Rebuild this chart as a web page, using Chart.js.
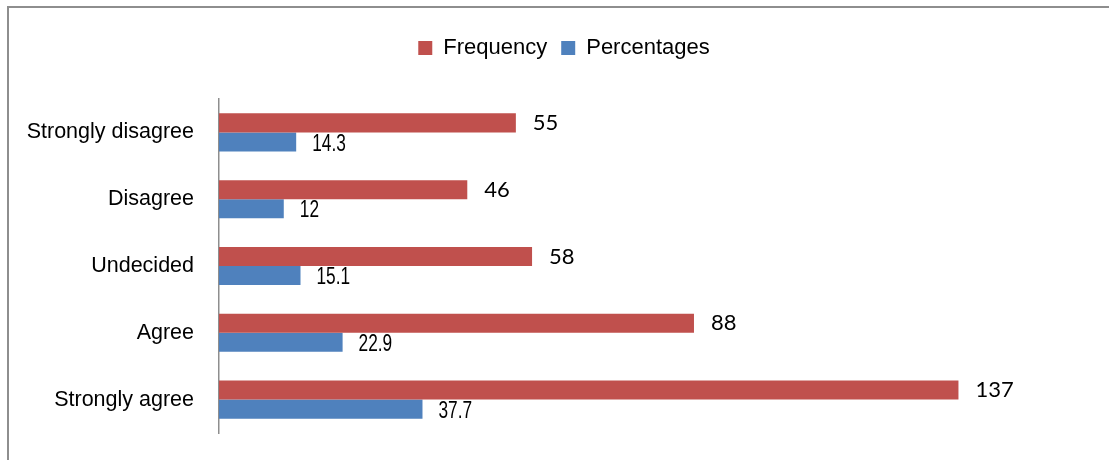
<!DOCTYPE html>
<html>
<head>
<meta charset="utf-8">
<script src="https://cdn.jsdelivr.net/npm/chart.js@4/dist/chart.umd.min.js"></script>
<style>
  html, body { margin: 0; padding: 0; background: #fff; }
  #wrap { position: relative; width: 1109px; height: 460px; }
  #frame { position: absolute; left: 7px; top: 6px; right: -5px; bottom: -5px;
           border-left: 2px solid #8e8e8e; border-top: 2px solid #8e8e8e; }
  canvas { position: absolute; left: 0; top: 0; }
</style>
</head>
<body>
<div id="wrap">
  <div id="frame"></div>
  <canvas id="chart" width="1109" height="460"></canvas>
</div>
<script>
// Datos
const categories = ['Strongly disagree', 'Disagree', 'Undecided', 'Agree', 'Strongly agree'];
const frequency = [55, 46, 58, 88, 137];
const percentages = [14.3, 12, 15.1, 22.9, 37.7];

const SANS = '"Liberation Sans", Arial, sans-serif';

// Etiquetas de valor al final de cada barra
const valueLabels = {
    id: 'valueLabels',
    afterDatasetsDraw(chart) {
        const ctx = chart.ctx;
        chart.data.datasets.forEach((ds, i) => {
            const meta = chart.getDatasetMeta(i);
            if (meta.hidden) return;
            meta.data.forEach((bar, j) => {
                ctx.save();
                ctx.fillStyle = '#000';
                ctx.textBaseline = 'middle';
                ctx.textAlign = 'left';
                if (i === 0) {
                    ctx.font = '22px Lato';
                    ctx.fillText(String(ds.data[j]), bar.x + 17, bar.y);
                } else {
                    // texto estrecho, como en el original
                    ctx.font = '24px ' + SANS;
                    ctx.translate(bar.x + 16, bar.y + 2);
                    ctx.scale(0.72, 1);
                    ctx.fillText(String(ds.data[j]), 0, 0);
                }
                ctx.restore();
            });
        });
    }
};

// Altura fija de la leyenda y desplazamiento horizontal
const legendHeight = {
    id: 'legendHeight',
    beforeInit(chart) {
        const fit = chart.legend.fit;
        chart.legend.fit = function () {
            fit.bind(chart.legend)();
            this.height = 76;
        };
    },
    afterLayout(chart) {
        chart.legend.left += 20;
        chart.legend.right += 20;
    }
};

document.addEventListener('DOMContentLoaded', function () {
    const ctx = document.getElementById('chart').getContext('2d');
    new Chart(ctx, {
        type: 'bar',
        data: {
            labels: categories,
            datasets: [
                {
                    label: 'Frequency',
                    data: frequency,
                    backgroundColor: '#C0504D',
                    categoryPercentage: 0.57,
                    barPercentage: 1.0
                },
                {
                    label: 'Percentages',
                    data: percentages,
                    backgroundColor: '#4F81BD',
                    categoryPercentage: 0.57,
                    barPercentage: 1.0
                }
            ]
        },
        options: {
            indexAxis: 'y',
            responsive: false,
            animation: false,
            layout: { padding: { top: 23, left: 0, right: 21, bottom: 27 } },
            plugins: {
                legend: {
                    display: true,
                    position: 'top',
                    labels: {
                        boxWidth: 14,
                        boxHeight: 14,
                        padding: 14,
                        color: '#000',
                        font: { family: SANS, size: 22 }
                    }
                },
                tooltip: { enabled: false }
            },
            scales: {
                x: {
                    display: false,
                    min: 0,
                    max: 161
                },
                y: {
                    afterFit(scale) {
                        scale.width = 219;
                        scale.paddingTop = 0;
                        scale.paddingBottom = 0;
                    },
                    grid: { display: false, drawTicks: false },
                    border: { display: true, color: '#8e8e8e', width: 1.5 },
                    ticks: {
                        color: '#000',
                        padding: 25,
                        font: { family: SANS, size: 21.5 }
                    }
                }
            }
        },
        plugins: [valueLabels, legendHeight]
    });
});
</script>
</body>
</html>
